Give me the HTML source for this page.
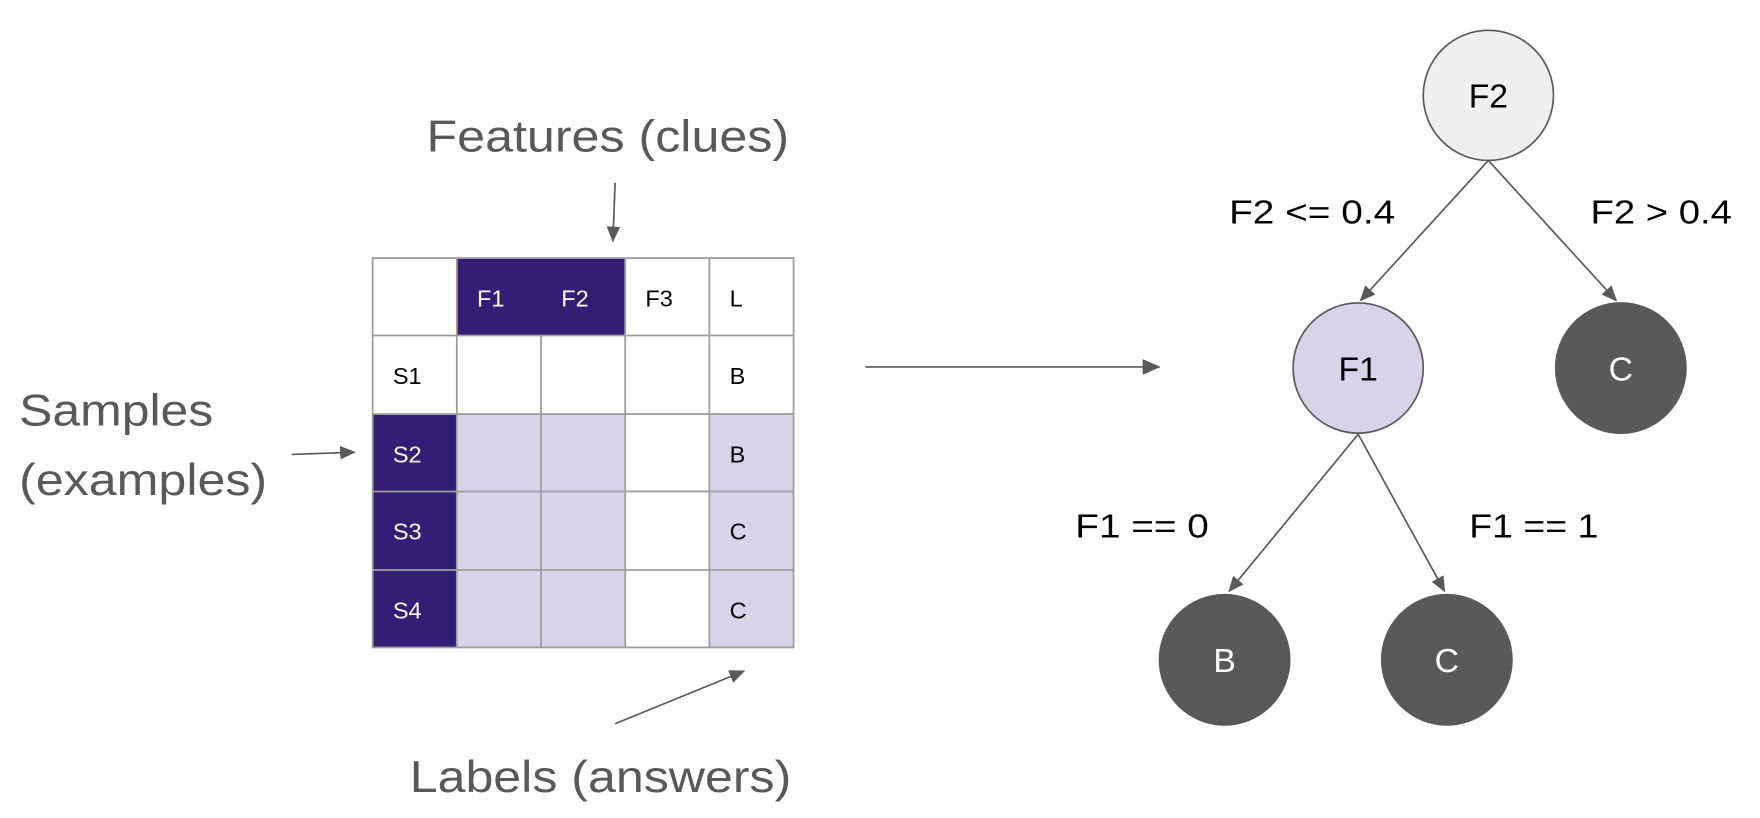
<!DOCTYPE html>
<html><head><style>html,body{margin:0;padding:0;background:#fff;}svg{display:block}</style></head>
<body>
<svg width="1760" height="818" viewBox="0 0 1568 729" preserveAspectRatio="none" xmlns="http://www.w3.org/2000/svg" font-family="Liberation Sans, Arial, sans-serif">
<defs>
<marker id="a" markerWidth="14" markerHeight="14" refX="13" refY="6" orient="auto" markerUnits="userSpaceOnUse"><path d="M0,0 L14,6 L0,12 z" fill="#595959"/></marker>
<marker id="b" markerWidth="16" markerHeight="16" refX="15" refY="7" orient="auto" markerUnits="userSpaceOnUse"><path d="M0,0 L16,7 L0,14 z" fill="#595959"/></marker>
</defs>
<rect x="407" y="230" width="150" height="69" fill="#351c75"/>
<rect x="332" y="369" width="75" height="208" fill="#351c75"/>
<rect x="407" y="369" width="150" height="208" fill="#d9d2e9"/>
<rect x="632" y="369" width="75" height="208" fill="#d9d2e9"/>
<g stroke="#9e9e9e" stroke-width="1.6" fill="none">
<rect x="332" y="230" width="375" height="347"/>
<line x1="407" y1="230" x2="407" y2="577"/>
<line x1="482" y1="299" x2="482" y2="577"/>
<line x1="557" y1="230" x2="557" y2="577"/>
<line x1="632" y1="230" x2="632" y2="577"/>
<line x1="332" y1="299" x2="707" y2="299"/>
<line x1="332" y1="369" x2="707" y2="369"/>
<line x1="332" y1="438" x2="707" y2="438"/>
<line x1="332" y1="508" x2="707" y2="508"/>
</g>
<g font-size="21">
<text x="425" y="273" fill="#fff">F1</text>
<text x="500" y="273" fill="#fff">F2</text>
<text x="575" y="273" fill="#000">F3</text>
<text x="650" y="273" fill="#000">L</text>
<text x="350" y="342" fill="#000">S1</text>
<text x="650" y="342" fill="#000">B</text>
<text x="350" y="412" fill="#fff">S2</text>
<text x="650" y="412" fill="#000">B</text>
<text x="350" y="481" fill="#fff">S3</text>
<text x="650" y="481" fill="#000">C</text>
<text x="350" y="551" fill="#fff">S4</text>
<text x="650" y="551" fill="#000">C</text>
</g>
<g font-size="40" fill="#595959">
<text x="380" y="135" textLength="323" lengthAdjust="spacingAndGlyphs">Features (clues)</text>
<text x="17" y="379" textLength="173" lengthAdjust="spacingAndGlyphs">Samples</text>
<text x="17" y="441" textLength="221" lengthAdjust="spacingAndGlyphs">(examples)</text>
<text x="365" y="706" textLength="340" lengthAdjust="spacingAndGlyphs">Labels (answers)</text>
</g>
<g stroke="#595959" stroke-width="1.5" fill="none">
<line x1="548" y1="163" x2="546" y2="215" marker-end="url(#a)"/>
<line x1="260" y1="405" x2="316" y2="403" marker-end="url(#a)"/>
<line x1="548" y1="645" x2="663" y2="598" marker-end="url(#a)"/>
<line x1="771" y1="327" x2="1033" y2="327" marker-end="url(#b)"/>
<line x1="1326" y1="143" x2="1212" y2="268" marker-end="url(#a)"/>
<line x1="1326" y1="143" x2="1440" y2="268" marker-end="url(#a)"/>
<line x1="1210" y1="387" x2="1095" y2="527" marker-end="url(#a)"/>
<line x1="1210" y1="387" x2="1287" y2="527" marker-end="url(#a)"/>
</g>
<g stroke="#595959" stroke-width="1.5">
<circle cx="1326" cy="85" r="58" fill="#efefef"/>
<circle cx="1210" cy="328" r="58" fill="#d9d2e9"/>
<circle cx="1444" cy="328" r="58" fill="#595959"/>
<circle cx="1091" cy="588" r="58" fill="#595959"/>
<circle cx="1289" cy="588" r="58" fill="#595959"/>
</g>
<g font-size="30" text-anchor="middle">
<text x="1326" y="96" fill="#000">F2</text>
<text x="1210" y="339" fill="#000">F1</text>
<text x="1444" y="339" fill="#fff">C</text>
<text x="1091" y="599" fill="#fff">B</text>
<text x="1289" y="599" fill="#fff">C</text>
</g>
<g font-size="30" fill="#000">
<text x="1095" y="199" textLength="148" lengthAdjust="spacingAndGlyphs">F2 &lt;= 0.4</text>
<text x="1417" y="199" textLength="126" lengthAdjust="spacingAndGlyphs">F2 &gt; 0.4</text>
<text x="958" y="479" textLength="119" lengthAdjust="spacingAndGlyphs">F1 == 0</text>
<text x="1309" y="479" textLength="115" lengthAdjust="spacingAndGlyphs">F1 == 1</text>
</g>
</svg>
</body></html>
